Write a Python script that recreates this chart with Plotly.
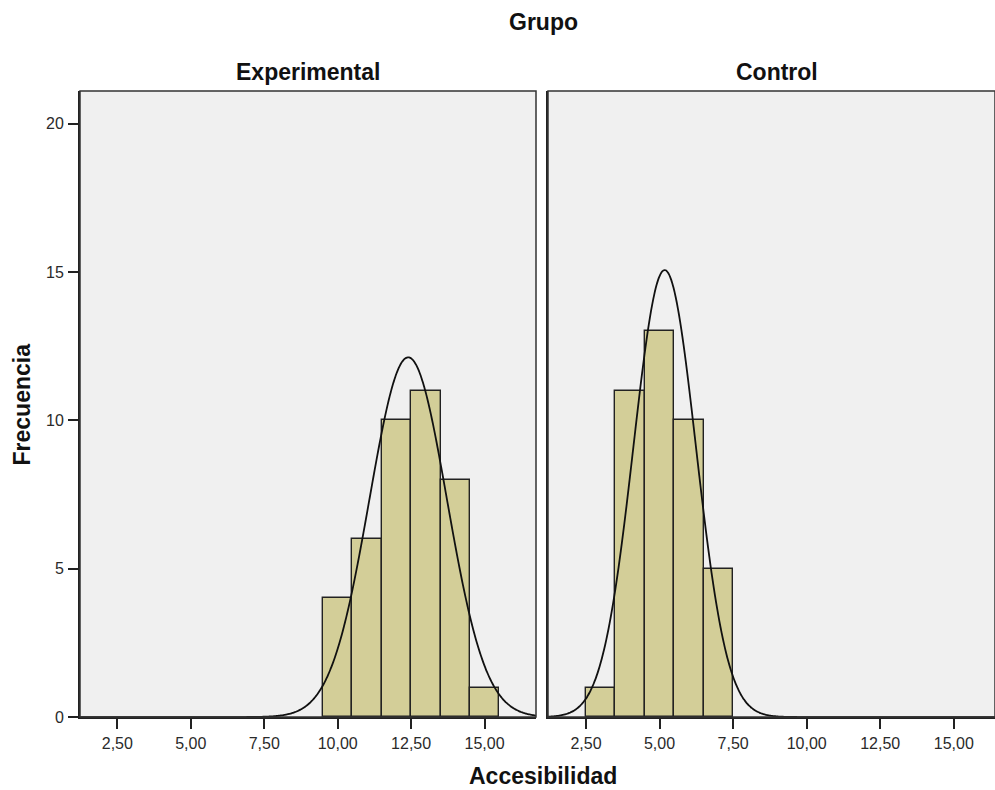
import numpy as np
import plotly.graph_objects as go

# Histogram bins (centres, width 1) and counts per group
exp_bins = [10, 11, 12, 13, 14, 15]
exp_counts = [4, 6, 10, 11, 8, 1]
ctl_bins = [3, 4, 5, 6, 7]
ctl_counts = [1, 11, 13, 10, 5]

x_ticks = [2.5, 5.0, 7.5, 10.0, 12.5, 15.0]
y_ticks = [0, 5, 10, 15, 20]

W, H = 995, 790
HP = 782  # drawable height used for paper fractions
BAR_FILL = "#D3CE98"
BAR_LINE = "#222222"
PLOT_BG = "#F0F0F0"
FONT = "Liberation Sans, Arial, sans-serif"


def py(px):
    """Paper y fraction for a pixel row measured from the top."""
    return 1 - px / HP


def normal_curve(bins, counts, xs):
    b = np.array(bins, float)
    c = np.array(counts, float)
    n = c.sum()
    mean = (b * c).sum() / n
    sd = np.sqrt(((b - mean) ** 2 * c).sum() / (n - 1))
    return n * 1.0 / (sd * np.sqrt(2 * np.pi)) * np.exp(-0.5 * ((xs - mean) / sd) ** 2)


fig = go.Figure()

xr1 = [1.23, 16.75]
xr2 = [1.21, 16.4]

for bins, counts, xa, ya, xr in [
    (exp_bins, exp_counts, "x", "y", xr1),
    (ctl_bins, ctl_counts, "x2", "y2", xr2),
]:
    fig.add_trace(go.Bar(
        x=bins, y=counts, width=1, xaxis=xa, yaxis=ya,
        marker=dict(color=BAR_FILL, line=dict(color=BAR_LINE, width=1.4)),
        showlegend=False, hoverinfo="x+y",
    ))
    xs = np.linspace(xr[0], xr[1], 400)
    fig.add_trace(go.Scatter(
        x=xs, y=normal_curve(bins, counts, xs), mode="lines", xaxis=xa, yaxis=ya,
        line=dict(color="#111111", width=1.8, shape="spline"),
        showlegend=False, hoverinfo="skip",
    ))

y_dom = [py(718), py(91)]
tick_font = dict(family=FONT, size=16, color="#2a2a2a")
common_x = dict(
    tickvals=x_ticks, tickformat=".2f", ticks="outside", ticklen=10, tickwidth=2,
    tickcolor="#222", showgrid=False, zeroline=False, showline=True,
    linecolor="#222", linewidth=2, mirror=False, tickfont=tick_font,
    ticklabelstandoff=1,
)
common_y = dict(
    range=[0, 21.1], showgrid=False, zeroline=False, domain=y_dom,
)

fig.update_layout(
    width=W, height=H, margin=dict(l=0, r=0, t=0, b=0),
    paper_bgcolor="white", plot_bgcolor=PLOT_BG,
    separators=",.", bargap=0,
    font=dict(family=FONT, color="#111"),
    xaxis=dict(domain=[80 / W, 536 / W], range=xr1, anchor="y", **common_x),
    xaxis2=dict(domain=[548 / W, 1.0], range=xr2, anchor="y2", **common_x),
    yaxis=dict(anchor="x", tickvals=y_ticks, ticks="outside", ticklen=10, tickwidth=2,
               tickcolor="#222", showline=True, linecolor="#222", linewidth=2,
               tickfont=tick_font, ticklabelstandoff=1, **common_y),
    yaxis2=dict(anchor="x2", showticklabels=False, showline=True, linecolor="#222",
                linewidth=2, **common_y),
)

# Panel frames (top and right edges)
for x0, x1 in [(80 / W, 536 / W), (548 / W, 1.0)]:
    fig.add_shape(type="rect", xref="paper", yref="paper", x0=x0, x1=x1,
                  y0=y_dom[0], y1=y_dom[1], line=dict(color="#333", width=1.5),
                  fillcolor="rgba(0,0,0,0)", layer="above")

bold = dict(family=FONT, size=23, color="#111")
annots = [
    dict(text="<b>Grupo</b>", x=543 / W, y=py(22)),
    dict(text="<b>Experimental</b>", x=308 / W, y=py(72)),
    dict(text="<b>Control</b>", x=777 / W, y=py(72)),
    dict(text="<b>Accesibilidad</b>", x=543 / W, y=py(777)),
]
for a in annots:
    fig.add_annotation(xref="paper", yref="paper", showarrow=False,
                       xanchor="center", yanchor="middle", font=bold, **a)
fig.add_annotation(text="<b>Frecuencia</b>", xref="paper", yref="paper",
                   x=22 / W, y=py(405), textangle=-90, showarrow=False,
                   xanchor="center", yanchor="middle", font=bold)

fig.write_html("out.html")
